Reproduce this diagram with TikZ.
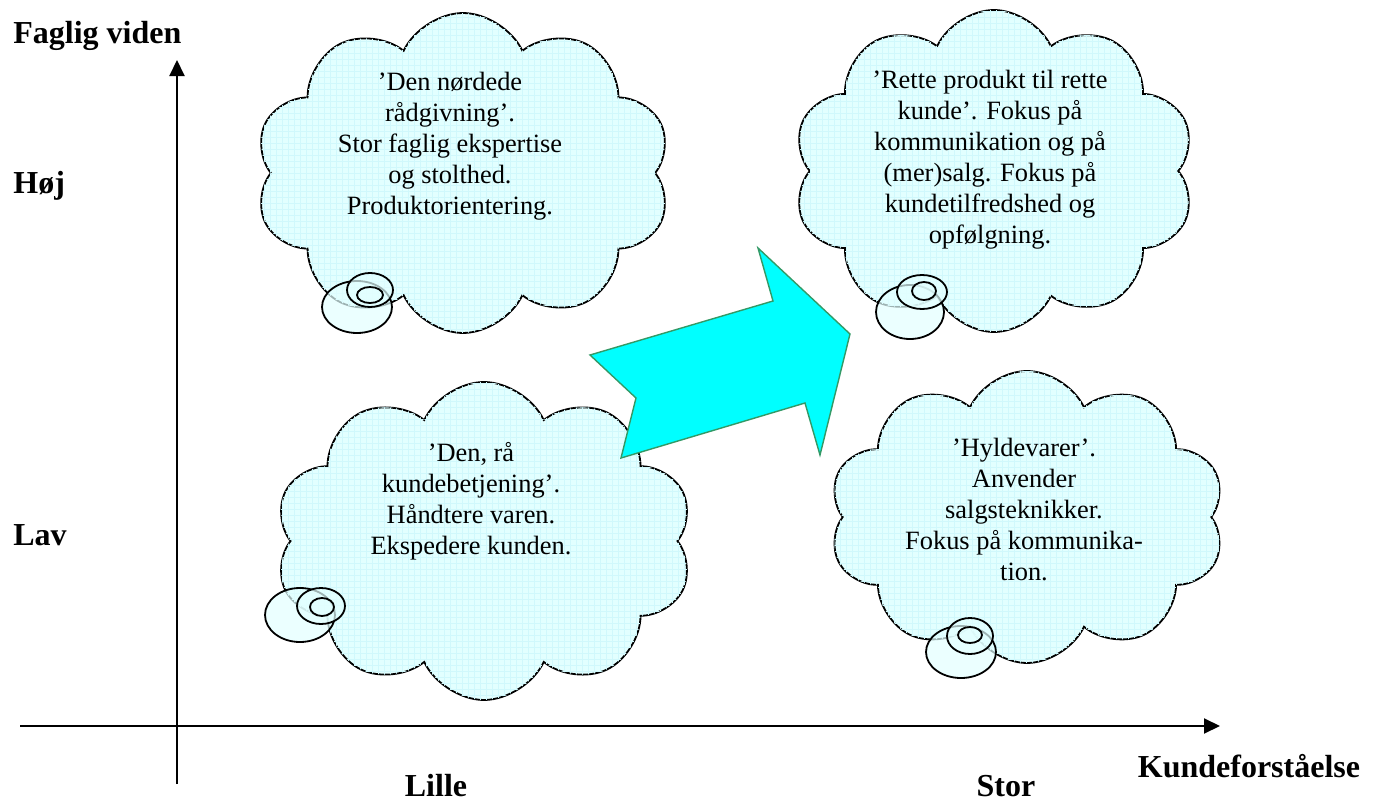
\documentclass[tikz,border=0pt]{standalone}
\usepackage{fontspec}
\setmainfont{Liberation Serif}
\usetikzlibrary{shapes.symbols,arrows.meta,patterns}

\definecolor{cloudfill}{RGB}{226,255,255}
\definecolor{cloudgrid}{RGB}{208,248,252}
\definecolor{arrowfill}{RGB}{0,255,255}
\definecolor{arrowedge}{RGB}{51,153,102}

\tikzset{
    cloudbox/.style={cloud, cloud puffs=10, cloud puff arc=130, cloud ignores aspect,
        draw=black, line width=0.9pt, fill=cloudfill, inner sep=0pt,
        postaction={pattern=grid, pattern color=cloudgrid}},
    cloudtext/.style={align=center, font=\fontsize{13.2}{15.5}\selectfont},
    axislabel/.style={inner sep=0pt, font=\fontsize{16}{19}\selectfont\bfseries},
    axis/.style={line width=1pt, -{Triangle[length=8pt,width=7.5pt]}},
    bubble/.style={draw=black, line width=0.9pt, fill=cloudfill, fill opacity=0.7},
    bigarrow/.style={fill=arrowfill, draw=arrowedge, line width=0.7pt, line join=miter}
}

\begin{document}
\begin{tikzpicture}[x=0.5pt,y=-0.5pt]

    \useasboundingbox (0,0) rectangle (1378,803);

    % Draw the axes
    \coordinate (yb) at (177,784);
    \coordinate (yt) at (177,60);
    \coordinate (xl) at (20,726);
    \coordinate (xr) at (1220,726);
    \draw[axis] (yb) -- (yt);
    \draw[axis] (xl) -- (xr);

    % Axis labels
    \node[axislabel, anchor=base west] (fagl) at (13,43) {Faglig viden};
    \node[axislabel, anchor=base west] (hoej) at (13,193) {Høj};
    \node[axislabel, anchor=base west] (lav) at (13,545) {Lav};
    \node[axislabel, anchor=base] (lille) at (436,796) {Lille};
    \node[axislabel, anchor=base] (stor) at (1006,796) {Stor};
    \node[axislabel, anchor=base] (kundef) at (1249,777) {Kundeforståelse};

    % Clouds
    \node[cloudbox, minimum width=208pt, minimum height=160pt] (nerd) at (463,173) {};
    \node[cloudbox, minimum width=201pt, minimum height=161pt] (rette) at (994,171) {};
    \node[cloudbox, minimum width=209pt, minimum height=159pt] (raa) at (484,541) {};
    \node[cloudbox, minimum width=198pt, minimum height=146pt] (hylde) at (1027,517) {};

    % Thought bubbles under the clouds
    \foreach \cx/\cy/\rx/\ry in {357/307/35/26, 370/290/23/17, 370/295/13/8,
                                  910/312/34/27, 922/292/25/17, 924/291/12/9,
                                  300/615/35/27, 321/606/24/18, 322/607/12/9,
                                  961/652/35/26, 970/636/23/18, 970/635/12/8} {
        \draw[bubble] (\cx,\cy) ellipse [x radius=\rx, y radius=\ry];
    }

    % Cloud texts
    \node[cloudtext] (nerdtxt) at (450,146) {'Den nørdede\\rådgivning'.\\Stor faglig ekspertise\\og stolthed.\\Produktorientering.};
    \node[cloudtext] (rettetxt) at (990,160) {'Rette produkt til rette\\kunde'. Fokus på\\kommunikation og på\\(mer)salg. Fokus på\\kundetilfredshed og\\opfølgning.};
    \node[cloudtext] (raatxt) at (471,501) {'Den, rå\\kundebetjening'.\\Håndtere varen.\\Ekspedere kunden.};
    \node[cloudtext] (hyldetxt) at (1024,510) {'Hyldevarer'.\\Anvender\\salgsteknikker.\\Fokus på kommunika-\\tion.};

    % Big arrow
    \draw[bigarrow] (590,355) -- (773,301) -- (758,248) -- (850,334)
        -- (820,455) -- (805,403) -- (621,458) -- (636,398) -- cycle;

\end{tikzpicture}
\end{document}
